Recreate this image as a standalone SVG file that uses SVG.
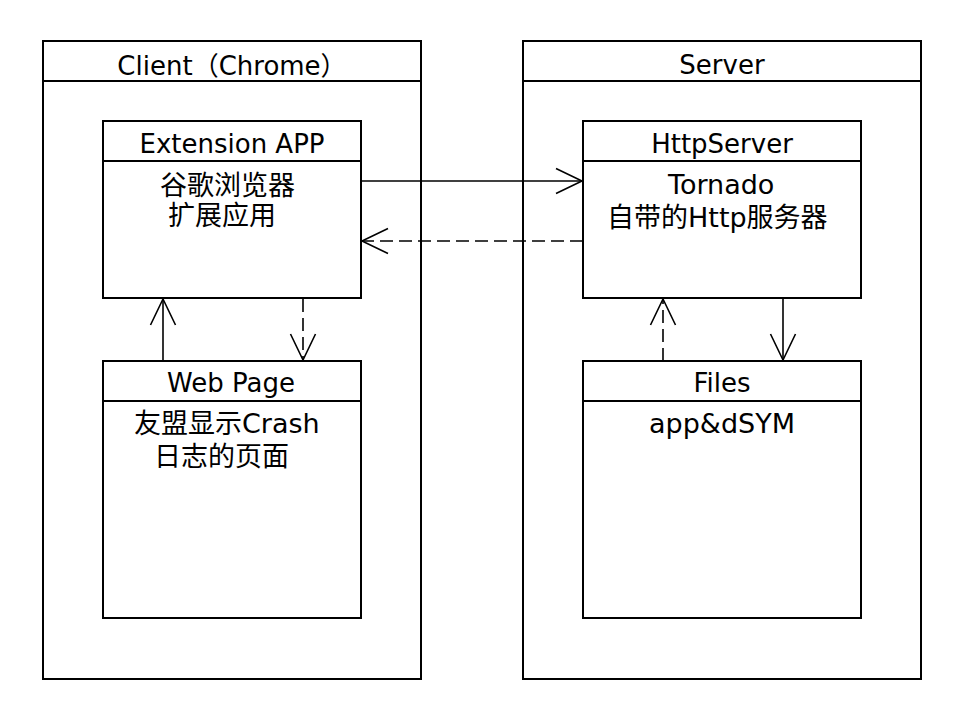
<svg xmlns="http://www.w3.org/2000/svg" width="960" height="720" viewBox="0 0 960 720">
  <defs>
    <style>
      .frame { fill: #ffffff; stroke: #000000; stroke-width: 2; }
      .sep { stroke: #000000; stroke-width: 2; }
      .t { font-family: "DejaVu Sans", "Noto Sans CJK SC", sans-serif; fill: #000000; }
      .head { font-size: 26px; text-anchor: middle; }
      .body { font-size: 27px; }
      .conn { fill: none; stroke: #000000; stroke-width: 1.6; }
      .dash { stroke-dasharray: 13 6; }
    </style>
    <marker id="open" markerUnits="userSpaceOnUse" viewBox="-30 -16 34 32" refX="0" refY="0" markerWidth="34" markerHeight="32" orient="auto" overflow="visible">
      <path d="M-26,-12.5 L0,0 L-26,12.5" fill="none" stroke="#000000" stroke-width="1.6"/>
    </marker>
  </defs>
  <rect width="960" height="720" fill="#ffffff"/>

  <g id="client">
    <rect class="frame" x="43" y="41" width="378" height="638"/>
    <line class="sep" x1="43" y1="81" x2="421" y2="81"/>
    <text class="t head" x="232" y="75">Client（Chrome）</text>
  </g>

  <g id="server">
    <rect class="frame" x="523" y="41" width="398" height="638"/>
    <line class="sep" x1="523" y1="81" x2="921" y2="81"/>
    <text class="t head" x="722" y="74">Server</text>
  </g>

  <g id="extension-app">
    <rect class="frame" x="103" y="121" width="258" height="177"/>
    <line class="sep" x1="103" y1="161" x2="361" y2="161"/>
    <text class="t head" x="232" y="153">Extension APP</text>
    <text class="t body" x="160" y="195">谷歌浏览器</text>
    <text class="t body" x="168" y="225">扩展应用</text>
  </g>

  <g id="web-page">
    <rect class="frame" x="103" y="361" width="258" height="257"/>
    <line class="sep" x1="103" y1="401" x2="361" y2="401"/>
    <text class="t head" x="231" y="392">Web Page</text>
    <text class="t body" x="134" y="433">友盟显示Crash</text>
    <text class="t body" x="154" y="466">日志的页面</text>
  </g>

  <g id="http-server">
    <rect class="frame" x="583" y="121" width="278" height="177"/>
    <line class="sep" x1="583" y1="161" x2="861" y2="161"/>
    <text class="t head" x="722" y="153">HttpServer</text>
    <text class="t body" x="668" y="194">Tornado</text>
    <text class="t body" x="607" y="227">自带的Http服务器</text>
  </g>

  <g id="files">
    <rect class="frame" x="583" y="361" width="278" height="257"/>
    <line class="sep" x1="583" y1="401" x2="861" y2="401"/>
    <text class="t head" x="722" y="392">Files</text>
    <text class="t body" x="649" y="433">app&amp;dSYM</text>
  </g>

  <g id="connectors">
    <line class="conn" x1="361" y1="181" x2="582" y2="181" marker-end="url(#open)"/>
    <line class="conn dash" x1="583" y1="241" x2="362" y2="241" marker-end="url(#open)"/>
    <line class="conn" x1="163" y1="361" x2="163" y2="299" marker-end="url(#open)"/>
    <line class="conn dash" x1="303" y1="299" x2="303" y2="360" marker-end="url(#open)"/>
    <line class="conn dash" x1="663" y1="361" x2="663" y2="299" marker-end="url(#open)"/>
    <line class="conn" x1="783" y1="298" x2="783" y2="360" marker-end="url(#open)"/>
  </g>
</svg>
